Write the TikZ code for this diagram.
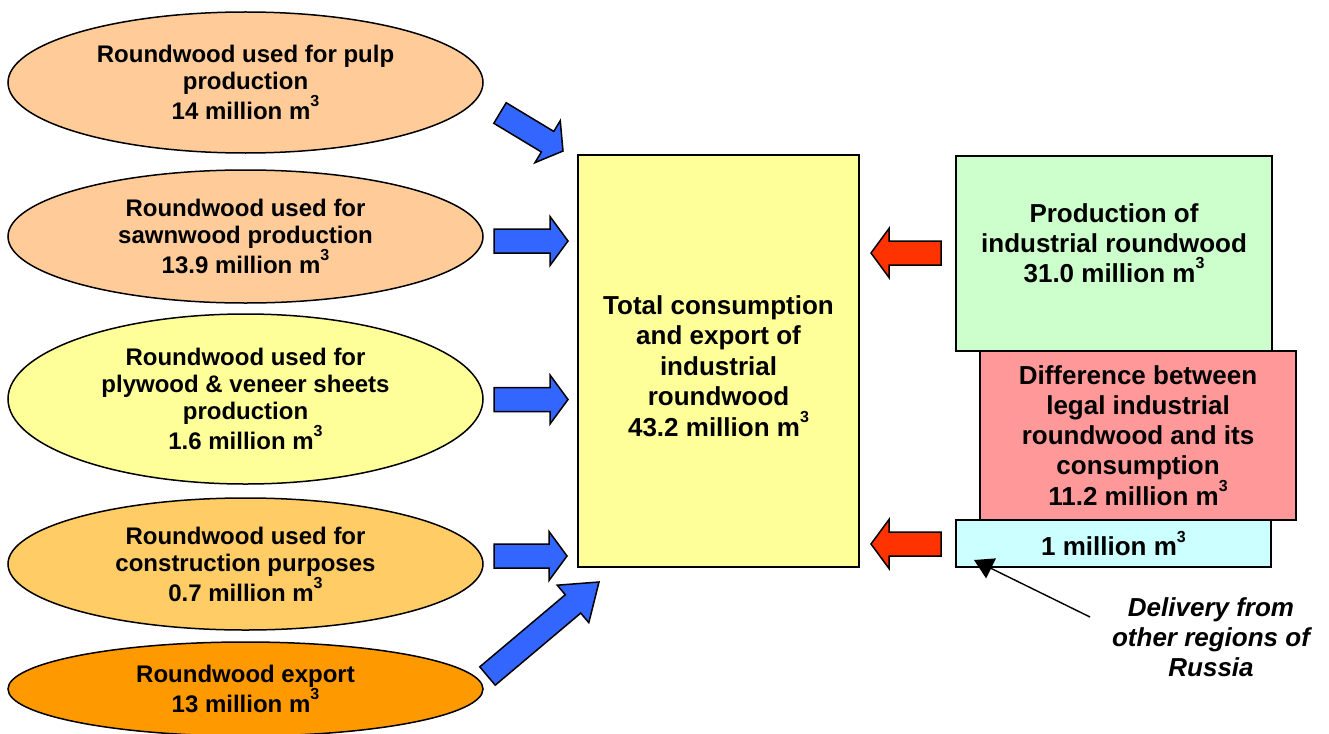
\documentclass[tikz,border=0pt]{standalone}
\usepackage{fontspec}
\setmainfont{Liberation Sans}
\usetikzlibrary{shapes.geometric,calc,arrows.meta}

\definecolor{peach}{HTML}{FFCC99}
\definecolor{paleyellow}{HTML}{FFFF99}
\definecolor{lightorange}{HTML}{FFCC66}
\definecolor{deeporange}{HTML}{FF9900}
\definecolor{palegreen}{HTML}{CCFFCC}
\definecolor{palepink}{HTML}{FF9999}
\definecolor{palecyan}{HTML}{CCFFFF}
\definecolor{arrowblue}{HTML}{3366FF}
\definecolor{arrowred}{HTML}{FF3300}

\newcommand{\cubesup}{\raisebox{1.0ex}{\fontsize{16}{16}\selectfont 3}}

\tikzset{
    source/.style={ellipse, draw, line width=1.5pt, minimum width=475pt, inner sep=0pt,
        align=center, font=\fontsize{24}{27}\selectfont\bfseries},
    stock/.style={rectangle, draw, line width=1.5pt, inner sep=0pt,
        align=center, font=\fontsize{26}{30}\selectfont\bfseries},
}

\newcommand{\blockarrow}[4][18pt]{%
    \coordinate (hb) at ($(#4)!#1!(#3)$);
    \filldraw[fill=#2, line width=1.5pt, line join=miter]
        ($(#3)!12pt!90:(#4)$) -- ($(hb)!12pt!90:(#4)$) -- ($(hb)!24.5pt!90:(#4)$) -- (#4)
        -- ($(hb)!24.5pt!-90:(#4)$) -- ($(hb)!12pt!-90:(#4)$) -- ($(#3)!12pt!-90:(#4)$) -- cycle;
}

\begin{document}
\begin{tikzpicture}[x=1pt,y=-1pt]
                \useasboundingbox (0,0) rectangle (1329,733);

                \node[source, fill=peach, minimum height=141pt] (pulp) at (245.5,82.5) {Roundwood used for pulp\\production\\14 million m\cubesup};
                \node[source, fill=peach, minimum height=133pt] (sawn) at (245.5,236.5) {Roundwood used for\\sawnwood production\\13.9 million m\cubesup};
                \node[source, fill=paleyellow, minimum height=170pt] (plywood) at (245.5,399) {Roundwood used for\\plywood \& veneer sheets\\production\\1.6 million m\cubesup};
                \node[source, fill=lightorange, minimum height=132pt] (constr) at (245.5,564) {Roundwood used for\\construction purposes\\0.7 million m\cubesup};
                \node[source, fill=deeporange, minimum height=94pt] (export) at (245.5,689) {Roundwood export\\13 million m\cubesup};

                \node[stock, fill=paleyellow, minimum width=281pt, minimum height=412pt, text height=151pt, font=\fontsize{26}{30.5}\selectfont\bfseries] (total) at (718.5,361) {Total consumption\\and export of\\industrial\\roundwood\\43.2 million m\cubesup};

                \node[stock, fill=palegreen, minimum width=316pt, minimum height=195pt, text depth=21pt] (prod) at (1114,253.5) {Production of\\industrial roundwood\\31.0 million m\cubesup};
                \node[stock, fill=palepink, minimum width=316pt, minimum height=169pt] (diff) at (1138,435.5) {Difference between\\legal industrial\\roundwood and its\\consumption\\11.2 million m\cubesup};
                \node[stock, fill=palecyan, minimum width=315pt, minimum height=47pt] (deliv) at (1113.5,543.5) {1 million m\cubesup};

                \node[align=center, font=\fontsize{26}{30}\selectfont\bfseries\itshape] (delivlbl) at (1211,637) {Delivery from\\other regions of\\Russia};

                \coordinate (a1s) at (500,113);
                \coordinate (a1e) at (563,151);
                \coordinate (a2s) at (494,241);
                \coordinate (a2e) at (568,241);
                \coordinate (a3s) at (494,399.5);
                \coordinate (a3e) at (568,399.5);
                \coordinate (a4s) at (494,556);
                \coordinate (a4e) at (567,556);
                \coordinate (a5s) at (487.5,676);
                \coordinate (a5e) at (599,582);
                \coordinate (r1s) at (941,253);
                \coordinate (r1e) at (871,253);
                \coordinate (r2s) at (941,544);
                \coordinate (r2e) at (871,544);

                \blockarrow{arrowblue}{a1s}{a1e}
                \blockarrow{arrowblue}{a2s}{a2e}
                \blockarrow{arrowblue}{a3s}{a3e}
                \blockarrow{arrowblue}{a4s}{a4e}
                \blockarrow[34pt]{arrowblue}{a5s}{a5e}
                \blockarrow{arrowred}{r1s}{r1e}
                \blockarrow{arrowred}{r2s}{r2e}

                \coordinate (delivfoot) at (1090,617);
                \coordinate (delivtip) at (974,560);
                \draw[line width=1.4pt, -{Triangle[width=22pt,length=19pt]}] (delivfoot) -- (delivtip);
\end{tikzpicture}
\end{document}
